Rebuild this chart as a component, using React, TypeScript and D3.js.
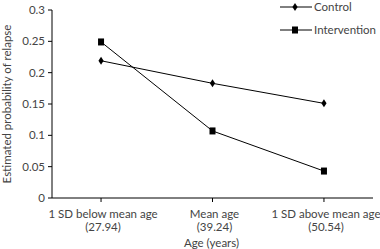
import React from "react";
import * as d3 from "d3";

const categories = ["1 SD below mean age|(27.94)", "Mean age|(39.24)", "1 SD above mean age|(50.54)"];
const controlValues = [0.219, 0.183, 0.151];
const interventionValues = [0.249, 0.107, 0.043];
const yTicks = [0, 0.05, 0.1, 0.15, 0.2, 0.25, 0.3];
const yTickLabels = ["0", "0.05", "0.1", "0.15", "0.2", "0.25", "0.3"];
const seriesNames = ["Control", "Intervention"];

const W = 380, H = 249;
const left = 52, right = 373, top = 10, bottom = 198;
const font = "Lato, 'Open Sans', sans-serif";
const textColor = "#444";
const fs = 11.5;

export default function App() {
  const x = d3.scalePoint<string>().domain(categories).range([left, right]).padding(0.44);
  const y = d3.scaleLinear().domain([0, 0.3]).range([bottom, top]);
  const line = d3.line<number>().x((_, i) => x(categories[i])!).y(d => y(d));

  const diamond = (cx: number, cy: number, key: string) => (
    <path key={key} d={`M${cx},${cy - 4} L${cx + 2.6},${cy} L${cx},${cy + 4} L${cx - 2.6},${cy} Z`} fill="#000" />
  );
  const square = (cx: number, cy: number, key: string) => (
    <rect key={key} x={cx - 3} y={cy - 3.5} width={6} height={7} fill="#000" />
  );

  return (
    <svg width={W} height={H} style={{ position: "absolute", left: 0, top: 0, background: "#fff" }}>
      <line x1={left} x2={left} y1={top} y2={bottom} stroke="#000" strokeWidth={1} />
      {yTicks.map((t, i) => (
        <g key={i}>
          <line x1={left - 4} x2={left} y1={y(t)} y2={y(t)} stroke="#000" />
          <text x={left - 7} y={y(t)} dy="0.35em" textAnchor="end" fontFamily={font} fontSize={fs} fill={textColor}>
            {yTickLabels[i]}
          </text>
        </g>
      ))}
      <line x1={left} x2={right} y1={bottom} y2={bottom} stroke="#000" />
      {categories.map((c, i) => {
        const [l1, l2] = c.split("|");
        const cx = x(c)!;
        return (
          <g key={i}>
            <line x1={cx} x2={cx} y1={bottom} y2={bottom + 4} stroke="#000" />
            <text x={cx + 2} y={bottom + 20} textAnchor="middle" fontFamily={font} fontSize={fs} fill={textColor}>{l1}</text>
            <text x={cx + 2} y={bottom + 33} textAnchor="middle" fontFamily={font} fontSize={fs} fill={textColor}>{l2}</text>
          </g>
        );
      })}
      <text x={(left + right) / 2 - 1} y={247} textAnchor="middle" fontFamily={font} fontSize={fs} fill={textColor}>Age (years)</text>
      <text transform={`translate(11,${(top + bottom) / 2}) rotate(-90)`} textAnchor="middle" fontFamily={font} fontSize={fs} fill={textColor}>
        Estimated probability of relapse
      </text>
      <path d={line(controlValues)!} fill="none" stroke="#000" strokeWidth={1} />
      <path d={line(interventionValues)!} fill="none" stroke="#000" strokeWidth={1} />
      {controlValues.map((v, i) => diamond(x(categories[i])!, y(v), "c" + i))}
      {interventionValues.map((v, i) => square(x(categories[i])!, y(v), "s" + i))}
      {seriesNames.map((n, i) => {
        const ly = 7 + i * 23;
        return (
          <g key={n}>
            <line x1={280} x2={312} y1={ly} y2={ly} stroke="#000" />
            {i === 0 ? diamond(295, ly, "ld") : square(295, ly, "ls")}
            <text x={314} y={ly} dy="0.35em" fontFamily={font} fontSize={fs} fill={textColor}>{n}</text>
          </g>
        );
      })}
    </svg>
  );
}
